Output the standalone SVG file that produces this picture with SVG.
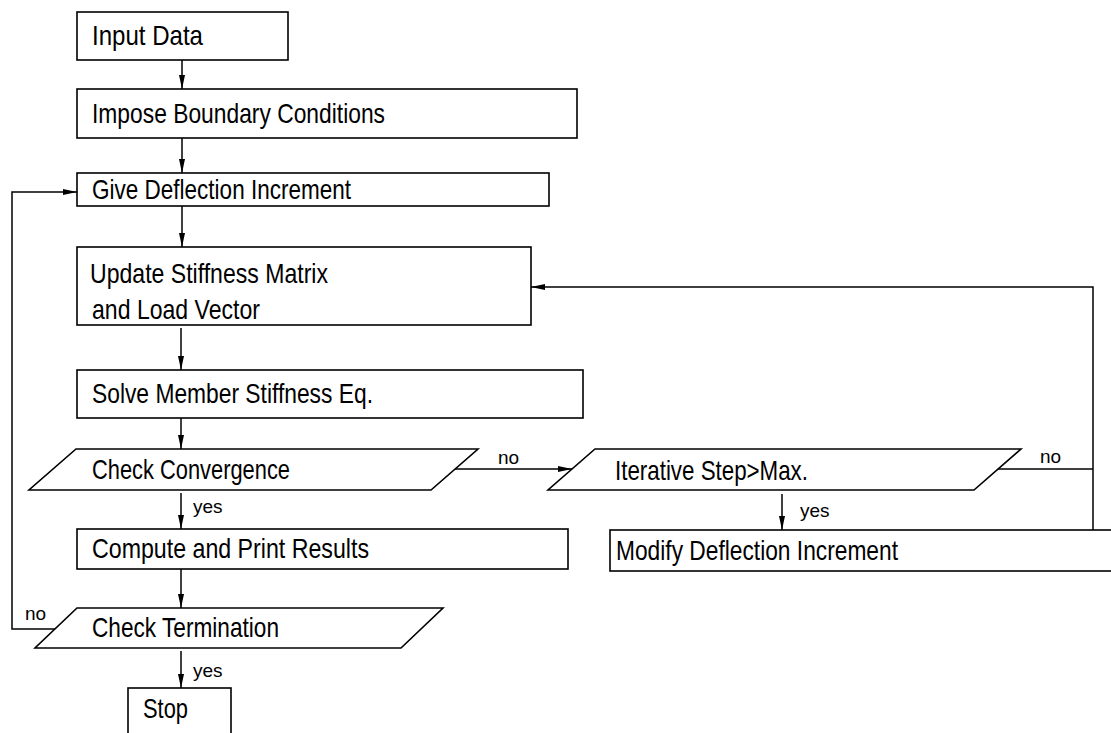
<svg xmlns="http://www.w3.org/2000/svg" width="1111" height="733" viewBox="0 0 1111 733">
<style>
.box{fill:none;stroke:#000;stroke-width:1.6}
.ln{fill:none;stroke:#000;stroke-width:1.5}
.t{font-family:"Liberation Sans Narrow","Liberation Sans",Arial,sans-serif;font-size:28px;fill:#000}
.l{font-family:"Liberation Sans Narrow","Liberation Sans",Arial,sans-serif;font-size:19px;fill:#000}
</style>
<defs>
<marker id="ah" viewBox="0 0 14 6" refX="14" refY="3" markerWidth="14" markerHeight="6" markerUnits="userSpaceOnUse" orient="auto">
<path d="M0,0 L14,3 L0,6 Z" fill="#000"/>
</marker>
</defs>
<rect width="1111" height="733" fill="#fff"/>
<g id="n-input"><rect class="box" x="77" y="12" width="211" height="48"/><text class="t" x="92" y="45" textLength="111" lengthAdjust="spacingAndGlyphs">Input Data</text></g>
<g id="n-impose"><rect class="box" x="77" y="89" width="500" height="49"/><text class="t" x="92" y="123" textLength="293" lengthAdjust="spacingAndGlyphs">Impose Boundary Conditions</text></g>
<g id="n-give"><rect class="box" x="77" y="173" width="472" height="33"/><text class="t" x="92" y="199" textLength="259" lengthAdjust="spacingAndGlyphs">Give Deflection Increment</text></g>
<g id="n-update"><rect class="box" x="77" y="247" width="454" height="78"/><text class="t" x="90" y="283" textLength="238" lengthAdjust="spacingAndGlyphs">Update Stiffness Matrix</text><text class="t" x="92" y="319" textLength="168" lengthAdjust="spacingAndGlyphs">and Load Vector</text></g>
<g id="n-solve"><rect class="box" x="77" y="370" width="506" height="48"/><text class="t" x="92" y="403" textLength="281" lengthAdjust="spacingAndGlyphs">Solve Member Stiffness Eq.</text></g>
<g id="n-conv"><polygon class="box" points="76,449 478,449 431,490 29,490"/><text class="t" x="92" y="479" textLength="198" lengthAdjust="spacingAndGlyphs">Check Convergence</text></g>
<g id="n-iter"><polygon class="box" points="595,449 1021,449 974,490 548,490"/><text class="t" x="615" y="480" textLength="193" lengthAdjust="spacingAndGlyphs">Iterative Step&gt;Max.</text></g>
<g id="n-compute"><rect class="box" x="77" y="529" width="491" height="40"/><text class="t" x="92" y="558" textLength="277" lengthAdjust="spacingAndGlyphs">Compute and Print Results</text></g>
<g id="n-modify"><rect class="box" x="610" y="530" width="510" height="41"/><text class="t" x="616" y="560" textLength="282" lengthAdjust="spacingAndGlyphs">Modify Deflection Increment</text></g>
<g id="n-term"><polygon class="box" points="77,608 443,608 401,648 35,648"/><text class="t" x="92" y="637" textLength="187" lengthAdjust="spacingAndGlyphs">Check Termination</text></g>
<g id="n-stop"><rect class="box" x="128" y="688" width="103" height="60"/><text class="t" x="143" y="718" textLength="45" lengthAdjust="spacingAndGlyphs">Stop</text></g>
<g id="connectors">
<line class="ln" x1="182" y1="60" x2="182" y2="89" marker-end="url(#ah)"/>
<line class="ln" x1="182" y1="138" x2="182" y2="173" marker-end="url(#ah)"/>
<line class="ln" x1="182" y1="206" x2="182" y2="247" marker-end="url(#ah)"/>
<line class="ln" x1="181" y1="328" x2="181" y2="370" marker-end="url(#ah)"/>
<line class="ln" x1="181" y1="418" x2="181" y2="449" marker-end="url(#ah)"/>
<line class="ln" x1="181" y1="493" x2="181" y2="529" marker-end="url(#ah)"/>
<line class="ln" x1="181" y1="569" x2="181" y2="608" marker-end="url(#ah)"/>
<line class="ln" x1="181" y1="651" x2="181" y2="688" marker-end="url(#ah)"/>
<line class="ln" x1="455" y1="469" x2="572" y2="469" marker-end="url(#ah)"/>
<line class="ln" x1="782" y1="494" x2="782" y2="530" marker-end="url(#ah)"/>
<polyline class="ln" points="998,469 1093,469"/>
<polyline class="ln" points="1093,530 1093,287 531,287" marker-end="url(#ah)"/>
<polyline class="ln" points="55,629 12,629 12,192 77,192" marker-end="url(#ah)"/>
<text class="l" x="498" y="464">no</text>
<text class="l" x="1040" y="463">no</text>
<text class="l" x="25" y="620">no</text>
<text class="l" x="193" y="513">yes</text>
<text class="l" x="800" y="517">yes</text>
<text class="l" x="193" y="677">yes</text>
</g>
</svg>
